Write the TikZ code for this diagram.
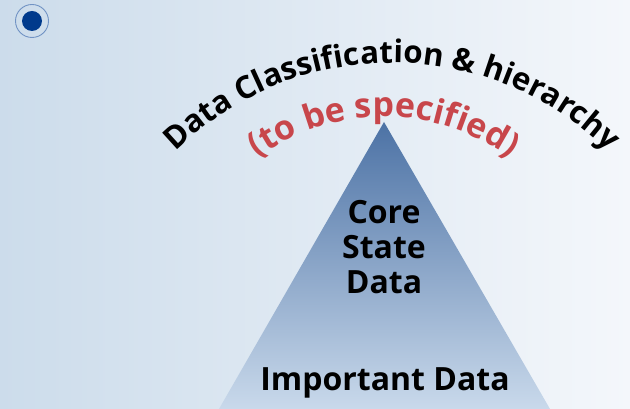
\documentclass[tikz,border=0pt]{standalone}
\usepackage{fontspec}
\setmainfont{Open Sans}
\usetikzlibrary{decorations.text,positioning}
\definecolor{bgleft}{HTML}{CCDCEB}
\definecolor{bgright}{HTML}{F4F7FB}
\definecolor{pyrtop}{HTML}{4C72A5}
\definecolor{pyrbottom}{HTML}{C9D9EB}
\definecolor{specred}{HTML}{C8464B}
\definecolor{dotblue}{HTML}{003A8C}
\definecolor{ringblue}{HTML}{7193C4}
\tikzset{
  label text/.style={font=\bfseries\fontsize{32}{35}\selectfont, align=center, text=black},
}
\begin{document}
\begin{tikzpicture}[x=1pt, y=1pt]
\useasboundingbox (0,0) rectangle (630,409);
% background
\shade[left color=bgleft, right color=bgright] (0,0) rectangle (630,409);
% icon
\node (ring) [draw=ringblue, line width=0.9pt, circle, minimum size=33pt] at (32,388) {};
\node (dot) [fill=dotblue, circle, minimum size=20pt, inner sep=0pt] at (ring.center) {};
% pyramid
\begin{scope}
\clip (0,0) rectangle (630,409);
\shade[top color=pyrtop, bottom color=pyrbottom] (384,287) -- (550,0) -- (219,0) -- cycle;
\end{scope}
\coordinate (apex) at (384,287);
% arc titles
\path[decorate, decoration={text along path, text align=center,
  text={|\bfseries\fontsize{31.2}{36}\selectfont|Data Classification {\&} hierarchy}}]
  (392,36) ++(160:310) arc[start angle=160, end angle=20, radius=310];
\path[decorate, decoration={text along path, text align=center, text color=specred,
  text={|\bfseries\fontsize{34}{38}\selectfont|(to be specified)}}]
  (384,77) ++(160:215) arc[start angle=160, end angle=20, radius=215];
% labels
\node (core) [label text] at (384,162) {Core\\State\\Data};
\node (important) [label text, anchor=base] at (385,18) {Important Data};
\end{tikzpicture}
\end{document}
